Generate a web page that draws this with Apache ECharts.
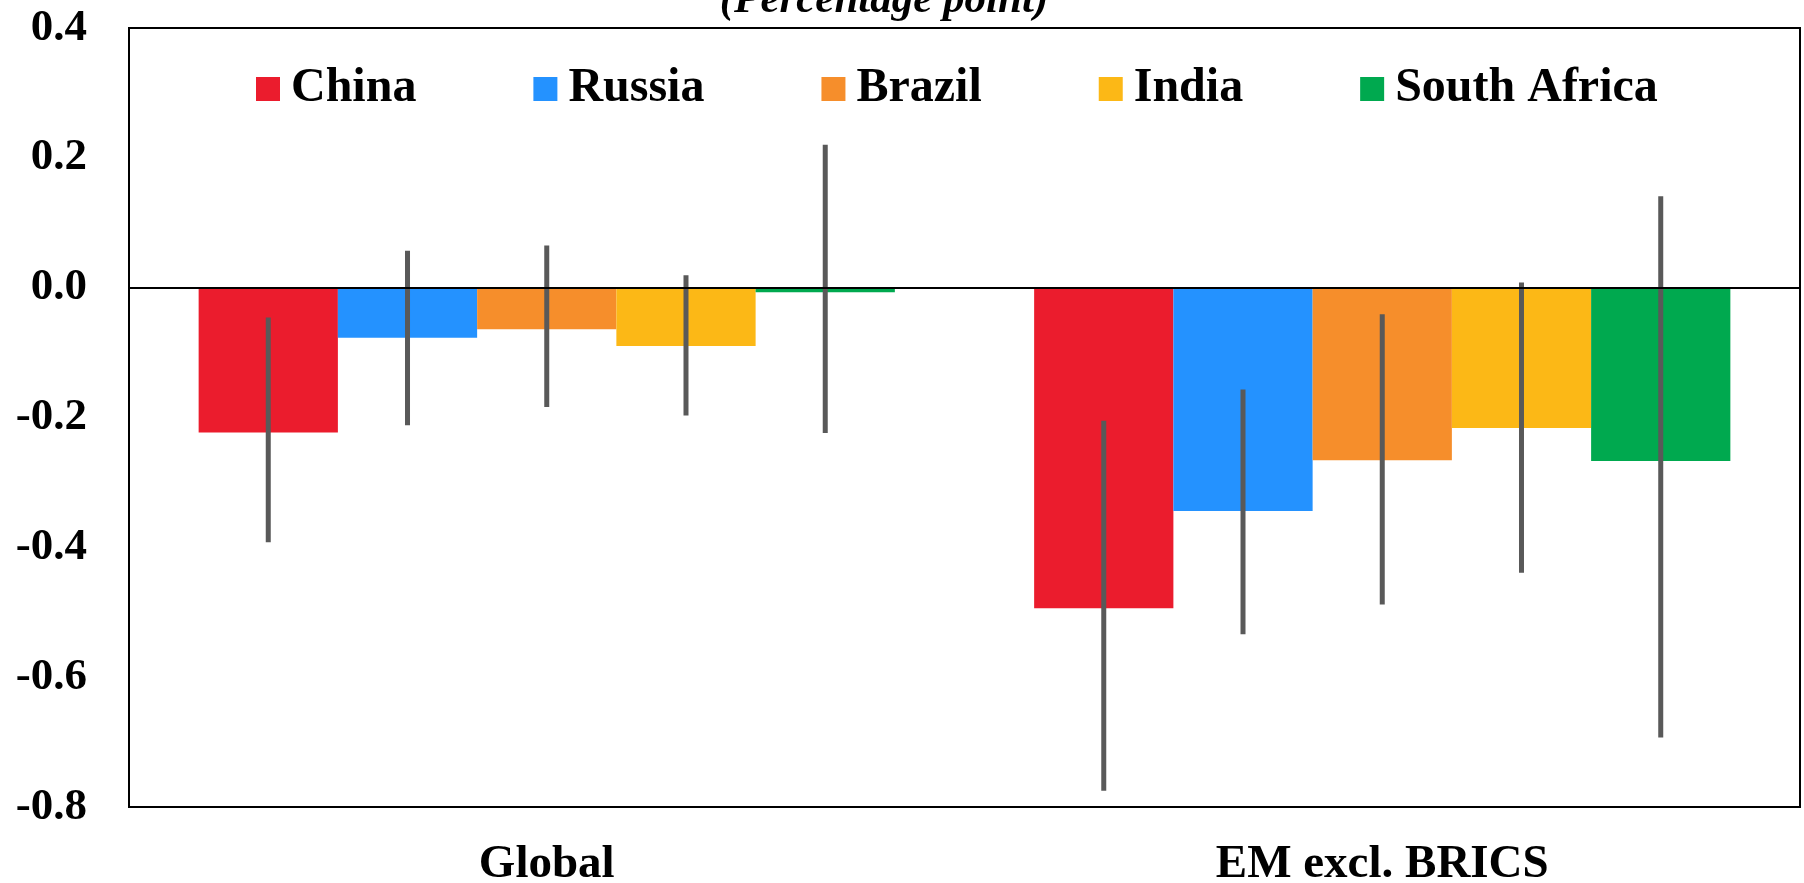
<!DOCTYPE html>
<html>
<head>
<meta charset="utf-8">
<title>BRICS spillovers</title>
<script src="https://cdn.jsdelivr.net/npm/echarts@6/dist/echarts.min.js"></script>
<style>
  html, body { margin: 0; padding: 0; background: #fff; }
  #chart { width: 1804px; height: 883px; }
</style>
</head>
<body>
<div id="chart"></div>
<script>
// Categories on the x axis
const categories = ['Global', 'EM excl. BRICS'];

// Country series (point estimates, percentage points)
const countries = ['China', 'Russia', 'Brazil', 'India', 'South Africa'];
const china       = [-0.223, -0.494];
const russia      = [-0.077, -0.344];
const brazil      = [-0.064, -0.266];
const india       = [-0.090, -0.216];
const southAfrica = [-0.007, -0.267];

// Confidence bands: [low, high] per category
const chinaBand       = [[-0.392, -0.046], [-0.775, -0.205]];
const russiaBand      = [[-0.212,  0.057], [-0.534, -0.157]];
const brazilBand      = [[-0.184,  0.065], [-0.488, -0.041]];
const indiaBand       = [[-0.197,  0.019], [-0.439,  0.008]];
const southAfricaBand = [[-0.224,  0.220], [-0.693,  0.141]];

// Y axis ticks
const yMin = -0.8, yMax = 0.4, yStep = 0.2;

const values = [china, russia, brazil, india, southAfrica];
const bands = [chinaBand, russiaBand, brazilBand, indiaBand, southAfricaBand];
const colors = ['#EB1C2D', '#2492FF', '#F68E2B', '#FCB816', '#00A94F'];

const FONT = "'Liberation Serif', 'Times New Roman', serif";
const GAP = 0.1667; // share of a category band left empty around the bar group

const chart = echarts.init(document.getElementById('chart'), null, { renderer: 'canvas' });

const barSeries = countries.map((name, i) => ({
  name,
  type: 'bar',
  data: values[i],
  barGap: '0%',
  barCategoryGap: (GAP * 100) + '%',
  itemStyle: { color: colors[i] },
  z: 2,
  markLine: i === 0 ? {
    silent: true,
    symbol: 'none',
    label: { show: false },
    lineStyle: { color: '#000', width: 2, type: 'solid' },
    data: [{ yAxis: 0 }],
    z: 4
  } : undefined
}));

// Whisker data: [categoryIndex, countryIndex, low, high]
const whiskers = [];
bands.forEach((b, s) => b.forEach((r, c) => whiskers.push([c, s, r[0], r[1]])));

const whiskerSeries = {
  type: 'custom',
  name: 'range',
  z: 3,
  encode: { x: 0, y: [2, 3] },
  data: whiskers,
  renderItem: (params, api) => {
    const c = api.value(0);
    const s = api.value(1);
    const band = api.size([1, 0])[0];
    const bw = band * (1 - GAP) / countries.length;
    const cx = api.coord([c, 0])[0] + (s - (countries.length - 1) / 2) * bw;
    const yLo = api.coord([c, api.value(2)])[1];
    const yHi = api.coord([c, api.value(3)])[1];
    return {
      type: 'line',
      shape: { x1: cx, y1: yHi, x2: cx, y2: yLo },
      style: { stroke: '#595959', lineWidth: 5 }
    };
  }
};

chart.setOption({
  animation: false,
  backgroundColor: '#fff',
  graphic: [{
    type: 'text',
    x: 884,
    y: 1,
    style: {
      text: '(Percentage point)',
      fontFamily: FONT,
      fontSize: 43,
      fontWeight: 'bold',
      fontStyle: 'italic',
      fill: '#000',
      align: 'center',
      verticalAlign: 'middle'
    }
  }],
  grid: {
    left: 129, right: 4, top: 28, bottom: 76,
    outerBoundsMode: 'none',
    containLabel: false,
    show: true, borderColor: '#000', borderWidth: 2, backgroundColor: 'transparent'
  },
  legend: {
    data: countries,
    left: 256,
    top: 65,
    padding: 0,
    icon: 'rect',
    itemWidth: 24,
    itemHeight: 24,
    itemGap: 117,
    textStyle: { fontFamily: FONT, fontSize: 48, fontWeight: 'bold', color: '#000', padding: [0, 0, 0, 6] }
  },
  xAxis: {
    type: 'category',
    data: categories,
    axisLine: { onZero: false, show: false },
    axisTick: { show: false },
    axisLabel: { margin: 34, fontFamily: FONT, fontSize: 47, fontWeight: 'bold', color: '#000' },
    splitLine: { show: false }
  },
  yAxis: {
    type: 'value',
    min: yMin, max: yMax, interval: yStep,
    axisLine: { show: false },
    axisTick: { show: false },
    splitLine: { show: false },
    axisLabel: {
      margin: 42,
      fontFamily: FONT, fontSize: 45, fontWeight: 'bold', color: '#000',
      formatter: v => v.toFixed(1)
    }
  },
  series: [...barSeries, whiskerSeries]
});
</script>
</body>
</html>
